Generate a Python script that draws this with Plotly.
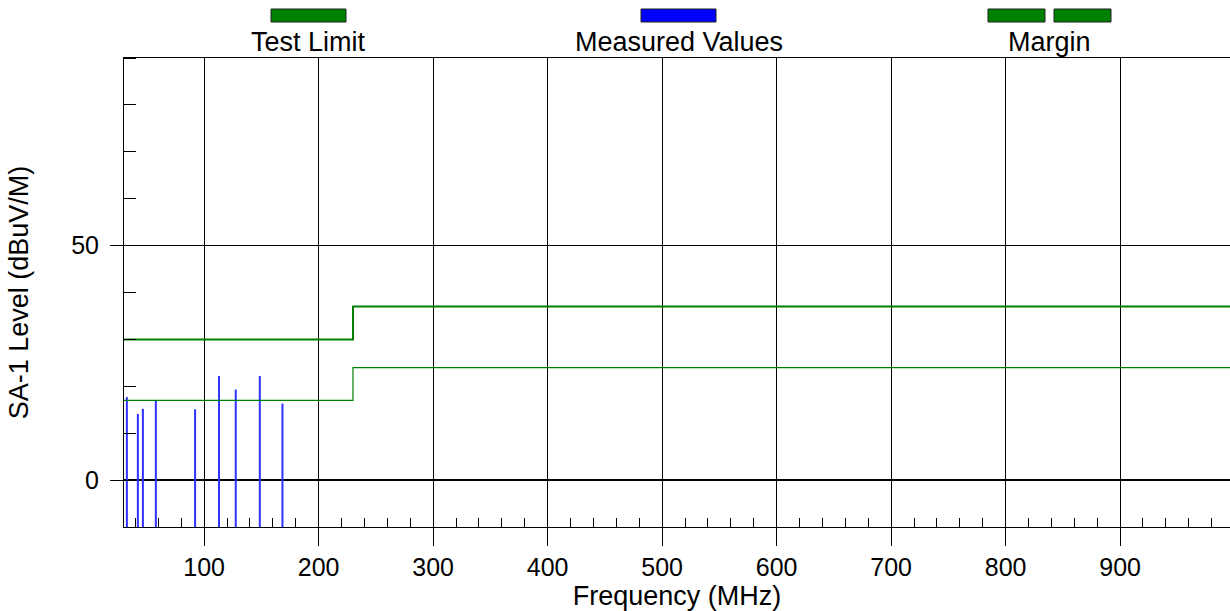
import plotly.graph_objects as go

# ---- data ----
limit_freq = [30, 230, 230, 1000]
limit_level = [30, 30, 37, 37]
margin_freq = [30, 230, 230, 1000]
margin_level = [17, 17, 24, 24]
meas_freq = [32.5, 42.1, 46.5, 57.8, 92.1, 113.0, 127.6, 148.6, 168.4]
meas_level = [17.7, 14.1, 15.2, 16.9, 15.1, 22.2, 19.3, 22.2, 16.3]
y_floor = -10

x_ticks = [100, 200, 300, 400, 500, 600, 700, 800, 900]
y_ticks = [0, 50]

# page-pixel geometry of the plot area
PL, PR, PT, PB = 124, 1230, 58, 527
FW, FH = 1230, 611
FONT = "Liberation Sans, Arial, sans-serif"
TXT = 27
TICK = 25

def px_x(p):
    return (p - PL) / (PR - PL)

def px_y(p):
    return (PB - p) / (PB - PT)

fig = go.Figure()

mx, my = [], []
for f, v in zip(meas_freq, meas_level):
    mx += [f, f, None]
    my += [y_floor, v, None]
fig.add_trace(go.Scatter(x=mx, y=my, mode="lines",
                         line=dict(color="#3030ff", width=2),
                         name="Measured Values", hoverinfo="skip"))
fig.add_trace(go.Scatter(x=margin_freq, y=margin_level, mode="lines",
                         line=dict(color="#008000", width=1.2), name="Margin"))
fig.add_trace(go.Scatter(x=limit_freq, y=limit_level, mode="lines",
                         line=dict(color="#008000", width=2), name="Test Limit"))

# custom legend
swatches = [
    ("Test Limit", [(271, 346)], "#008000"),
    ("Measured Values", [(641, 716)], "#0000ff"),
    ("Margin", [(988, 1045), (1054, 1111)], "#008000"),
]
shapes = []
annotations = []
for label, rects, col in swatches:
    for x0, x1 in rects:
        shapes.append(dict(type="rect", xref="paper", yref="paper",
                           x0=px_x(x0), x1=px_x(x1), y0=px_y(22), y1=px_y(9),
                           fillcolor=col, line=dict(color="#202020", width=1)))
    cx = (rects[0][0] + rects[-1][1]) / 2
    annotations.append(dict(text=label, xref="paper", yref="paper",
                            x=px_x(cx), y=px_y(42), showarrow=False,
                            xanchor="center", yanchor="middle",
                            font=dict(family=FONT, size=TXT, color="black")))

fig.update_layout(
    width=FW, height=FH,
    margin=dict(l=PL, r=FW - PR, t=PT, b=FH - PB, pad=0),
    paper_bgcolor="white", plot_bgcolor="white",
    showlegend=False,
    font=dict(family=FONT, size=TICK, color="black"),
    shapes=shapes, annotations=annotations,
    xaxis=dict(
        range=[30, 996], tickvals=x_ticks, ticktext=[str(v) for v in x_ticks],
        ticks="outside", ticklen=18, tickwidth=1, tickcolor="black",
        showgrid=True, gridcolor="black", gridwidth=1,
        showline=True, linecolor="black", linewidth=1, mirror=True,
        zeroline=False,
        minor=dict(dtick=20, tick0=0, ticks="inside", ticklen=9,
                   tickwidth=1, tickcolor="black", showgrid=False),
        title=dict(text="Frequency (MHz)", font=dict(size=TXT), standoff=4),
        tickfont=dict(size=TICK),
    ),
    yaxis=dict(
        range=[-10, 90], tickvals=y_ticks, ticktext=[str(v) for v in y_ticks],
        ticks="outside", ticklen=13, tickwidth=1, tickcolor="black",
        ticklabelstandoff=6,
        showgrid=True, gridcolor="black", gridwidth=1,
        showline=True, linecolor="black", linewidth=1, mirror=False,
        zeroline=True, zerolinecolor="black", zerolinewidth=2,
        minor=dict(dtick=10, tick0=0, ticks="inside", ticklen=12,
                   tickwidth=1, tickcolor="black", showgrid=False),
        title=dict(text="SA-1 Level (dBuV/M)", font=dict(size=TXT), standoff=34),
        tickfont=dict(size=TICK),
    ),
)

fig.write_html("out.html",
               config={"displayModeBar": False, "staticPlot": True},
               post_script="document.body.style.margin='0';"
                           "document.documentElement.style.overflow='hidden';")
